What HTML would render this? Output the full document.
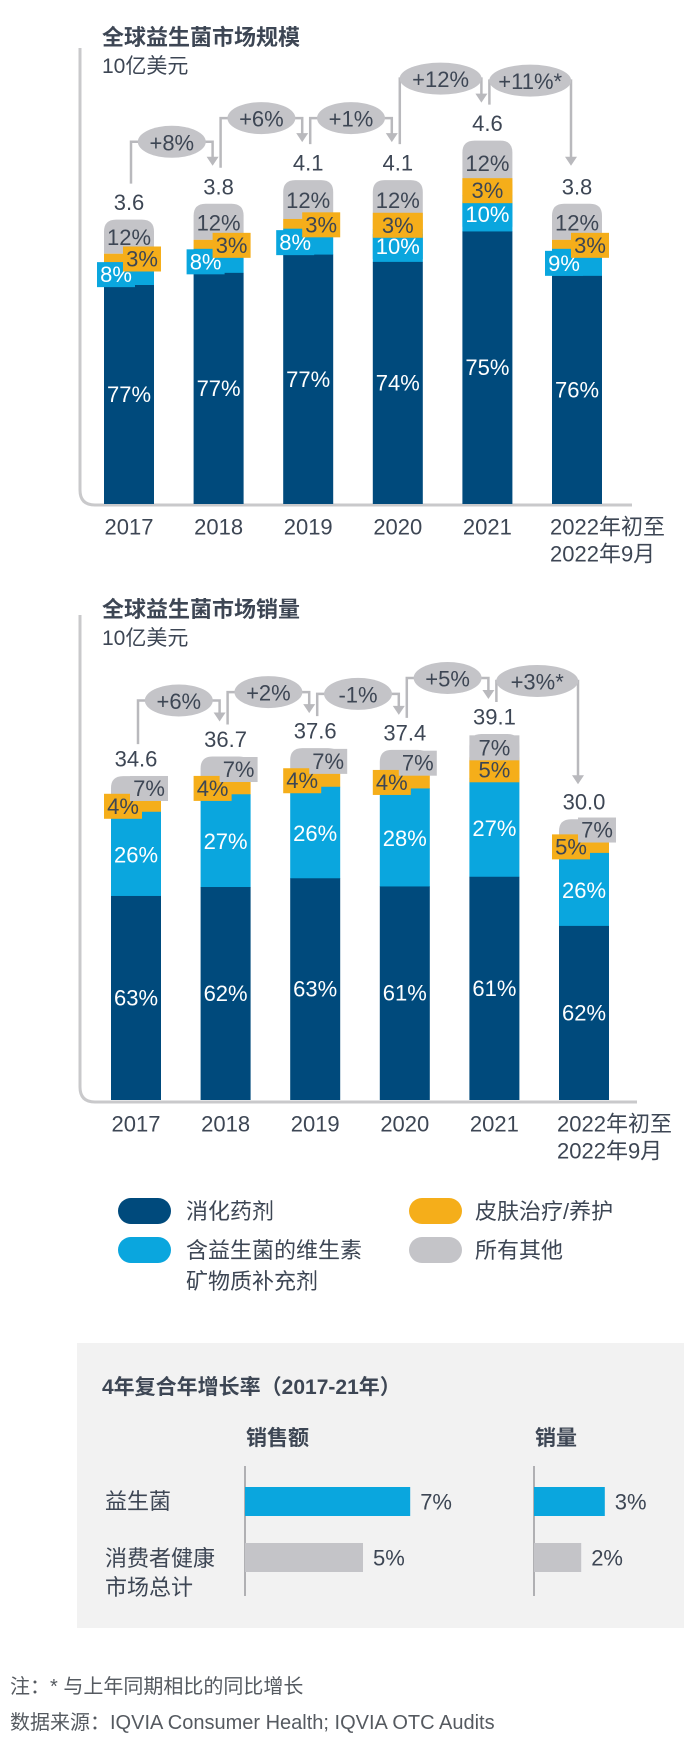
<!DOCTYPE html>
<html><head><meta charset="utf-8">
<style>
html,body{margin:0;padding:0;background:#fff;}
svg{display:block;font-family:"Liberation Sans","Noto Sans CJK SC",sans-serif;}
</style></head>
<body>
<svg id="chart" width="700" height="1744" viewBox="0 0 700 1744" xmlns="http://www.w3.org/2000/svg">
  <rect x="0" y="0" width="700" height="1744" fill="#ffffff"/>
  <text x="102" y="45" font-size="22" font-weight="bold" fill="#3d4654">全球益生菌市场规模</text>
  <text x="102" y="73" font-size="21" fill="#3d4654">10亿美元</text>
  <path d="M80,48 V490 Q80,505 95,505 H632" fill="none" stroke="#c9c9cb" stroke-width="3"/>
  <g id="c1"></g>
  <text x="102" y="617" font-size="22" font-weight="bold" fill="#3d4654">全球益生菌市场销量</text>
  <text x="102" y="645" font-size="21" fill="#3d4654">10亿美元</text>
  <path d="M80,615 V1087 Q80,1102 95,1102 H637" fill="none" stroke="#c9c9cb" stroke-width="3"/>
  <g id="c2"></g>
  <g>
    <g>
      <rect x="118" y="1198" width="53" height="26" rx="13" fill="#004a7c"/>
      <text x="186" y="1219" font-size="22" fill="#3d4654">消化药剂</text>
    </g>
    <g>
      <rect x="409" y="1198" width="53" height="26" rx="13" fill="#f5ae1a"/>
      <text x="475" y="1219" font-size="22" fill="#3d4654">皮肤治疗/养护</text>
    </g>
    <g>
      <rect x="118" y="1237" width="53" height="26" rx="13" fill="#0aa6de"/>
      <text x="186" y="1258" font-size="22" fill="#3d4654">含益生菌的维生素</text>
      <text x="186" y="1289" font-size="22" fill="#3d4654">矿物质补充剂</text>
    </g>
    <g>
      <rect x="409" y="1237" width="53" height="26" rx="13" fill="#c4c4c8"/>
      <text x="475" y="1258" font-size="22" fill="#3d4654">所有其他</text>
    </g>
  </g>
  <g>
    <rect x="77" y="1343" width="607" height="285" fill="#f2f2f2"/>
    <text x="102" y="1394" font-size="21" font-weight="bold" fill="#3d4654">4年复合年增长率（2017-21年）</text>
    <text x="246" y="1445" font-size="21" font-weight="bold" fill="#3d4654">销售额</text>
    <text x="535" y="1445" font-size="21" font-weight="bold" fill="#3d4654">销量</text>
    <text x="105" y="1509" font-size="22" fill="#3d4654">益生菌</text>
    <text x="105" y="1566" font-size="22" fill="#3d4654">消费者健康</text>
    <text x="105" y="1595" font-size="22" fill="#3d4654">市场总计</text>
    <g id="c3"></g>
  </g>
  <text x="10" y="1693" font-size="20" fill="#555a60">注：* 与上年同期相比的同比增长</text>
  <text x="10" y="1729" font-size="20" fill="#555a60">数据来源：IQVIA Consumer Health; IQVIA OTC Audits</text>
</svg>
<script>
const years = ['2017','2018','2019','2020','2021','2022年初至'];
const salesTotal = [3.6, 3.8, 4.1, 4.1, 4.6, 3.8];
const salesDigest = [77, 77, 77, 74, 75, 76];
const salesVit = [8, 8, 8, 10, 10, 9];
const salesSkin = [3, 3, 3, 3, 3, 3];
const salesOther = [12, 12, 12, 12, 12, 12];
const salesGrowth = ['+8%', '+6%', '+1%', '+12%', '+11%*'];
const volTotal = [34.6, 36.7, 37.6, 37.4, 39.1, 30.0];
const volDigest = [63, 62, 63, 61, 61, 62];
const volVit = [26, 27, 26, 28, 27, 26];
const volSkin = [4, 4, 4, 4, 5, 5];
const volOther = [7, 7, 7, 7, 7, 7];
const volGrowth = ['+6%', '+2%', '-1%', '+5%', '+3%*'];
const cagrRows = ['益生菌', '消费者健康市场总计'];
const cagrSales = [7, 5];
const cagrVolume = [3, 2];

const NS = 'http://www.w3.org/2000/svg';
const C = {dark:'#004a7c', blue:'#0aa6de', orange:'#f5ae1a', gray:'#c4c4c8', text:'#3d4654', line:'#b9b9bd'};
const FS = 22;
function mk(tag, attrs, parent){
  const e = document.createElementNS(NS, tag);
  for (const k in attrs) e.setAttribute(k, attrs[k]);
  parent.appendChild(e);
  return e;
}
function txt(parent, x, y, s, fill, size, anchor){
  const t = mk('text', {x:x, y:y, fill:fill, 'font-size':size, 'text-anchor':anchor||'middle', 'dominant-baseline':'central'}, parent);
  t.textContent = s;
  return t;
}

function drawStack(g, cfg){
  const {x0, step, bw, bottom, ppu, totals, dig, vit, skin, oth, growth, fmt, vitPos, skinPos, othPos, prefix} = cfg;
  const tops = [];
  totals.forEach((tot, i) => {
    const x = x0 + i*step;
    const H = tot*ppu;
    const sum = dig[i]+vit[i]+skin[i]+oth[i];
    const hD = H*dig[i]/sum, hV = H*vit[i]/sum, hS = H*skin[i]/sum, hO = H*oth[i]/sum;
    const yD = bottom - hD, yV = yD - hV, yS = yV - hS, yO = yS - hO;
    tops.push(yO);
    const grp = mk('g', {}, g);
    
    
    const r = Math.min(12, hO);
    const pO = mk('path', {d:`M${x},${yS} V${yO+r} Q${x},${yO} ${x+r},${yO} H${x+bw-r} Q${x+bw},${yO} ${x+bw},${yO+r} V${yS} Z`, fill:C.gray}, grp);
    
    
    const rS = mk('rect', {x:x, y:yS, width:bw, height:hS+0.5, fill:C.orange}, grp);
    
    
    const rV = mk('rect', {x:x, y:yV, width:bw, height:hV+0.5, fill:C.blue}, grp);
    
    
    const rD = mk('rect', {x:x, y:yD, width:bw, height:hD, fill:C.dark}, grp);
    
    
    txt(grp, x+bw/2, yD+hD/2, dig[i]+'%', '#ffffff', FS);
    function boxLabel(val, cy, pos, fill, tcol){
      let bx, bwid = 38;
      if (pos==='left'){ bx = x-7; }
      else if (pos==='right'){ bx = x+bw+7-bwid; }
      else if (pos==='none'){ txt(grp, x+bw/2, cy, val+'%', tcol, FS); return; }
      else { bx = x; bwid = bw; }
      mk('rect', {x:bx, y:cy-12.5, width:bwid, height:25, fill:fill}, grp);
      txt(grp, bx+bwid/2, cy, val+'%', tcol, FS);
    }
    boxLabel(vit[i], yV+hV/2+1, vitPos[i], C.blue, '#ffffff');
    boxLabel(skin[i], yS+hS/2+1, skinPos[i], C.orange, C.text);
    boxLabel(oth[i], yO+hO/2+1, othPos[i], C.gray, C.text);
    const vl = txt(g, x+bw/2, yO-17, fmt(tot), C.text, FS);
    
    
    const yl = txt(g, x+bw/2, cfg.yearY, years[i], C.text, FS);
    
    
    if (i === totals.length-1){
      yl.setAttribute('x', x-2); yl.setAttribute('text-anchor','start');
      const y2 = txt(g, x-2, cfg.yearY+27, '2022年9月', C.text, FS, 'start');
      
      
    }
  });
  growth.forEach((gtxt, i) => {
    const xl = x0 + i*step + bw/2 + 2;
    const xr = x0 + (i+1)*step + bw/2 - 6;
    const ys = tops[i] - cfg.startOff;
    const yt = tops[i+1] - cfg.tipOff;
    const yb = Math.min(ys, yt) - cfg.bubOff;
    const cg = mk('g', {}, g);
    
    
    mk('path', {d:`M${xl},${ys} V${yb} H${xr} V${yt-7}`, fill:'none', stroke:C.line, 'stroke-width':2.5}, cg);
    mk('path', {d:`M${xr-6},${yt-9} L${xr+6},${yt-9} L${xr},${yt} Z`, fill:C.line}, cg);
    const rx = gtxt.length > 3 ? 41 : 34;
    mk('ellipse', {cx:(xl+xr)/2, cy:yb, rx:rx, ry:16, fill:'#c4c4c8'}, cg);
    txt(cg, (xl+xr)/2, yb+1, gtxt, C.text, FS);
  });
}

drawStack(document.getElementById('c1'), {
  prefix:'sales', x0:104, step:89.6, bw:50, bottom:504, ppu:79,
  totals:salesTotal, dig:salesDigest, vit:salesVit, skin:salesSkin, oth:salesOther, growth:salesGrowth,
  fmt: v => v.toFixed(1), yearY:527,
  vitPos:['left','left','left','center','center','left'],
  skinPos:['right','right','right','center','center','right'],
  othPos:['none','none','none','none','none','none'],
  startOff:36, tipOff:38, bubOff:24
});
drawStack(document.getElementById('c2'), {
  prefix:'volume', x0:111, step:89.6, bw:50, bottom:1100, ppu:9.36,
  totals:volTotal, dig:volDigest, vit:volVit, skin:volSkin, oth:volOther, growth:volGrowth,
  fmt: v => v.toFixed(1), yearY:1124,
  vitPos:['none','none','none','none','none','none'],
  skinPos:['left','left','left','left','center','left'],
  othPos:['right','right','right','right','center','right'],
  startOff:32, tipOff:35, bubOff:21
});

(function(){
  const g = document.getElementById('c3');
  const ppp = 23.6;
  const xs = [245, 534];
  const series = [cagrSales, cagrVolume];
  const rowY = [1487, 1543];
  const names = ['sales','volume'];
  xs.forEach((x0, s) => {
    const ax = mk('line', {x1:x0, y1:1466, x2:x0, y2:1596, stroke:'#9a9a9e', 'stroke-width':1.5}, g);
    
    
    series[s].forEach((v, r) => {
      const w = v*ppp;
      const b = mk('rect', {x:x0, y:rowY[r], width:w, height:29, fill: r===0 ? C.blue : C.gray}, g);
      
      
      const t = txt(g, x0 + w + 10, rowY[r] + 15, v + '%', C.text, FS, 'start');
      
      
    });
  });
})();
</script>
</body></html>
